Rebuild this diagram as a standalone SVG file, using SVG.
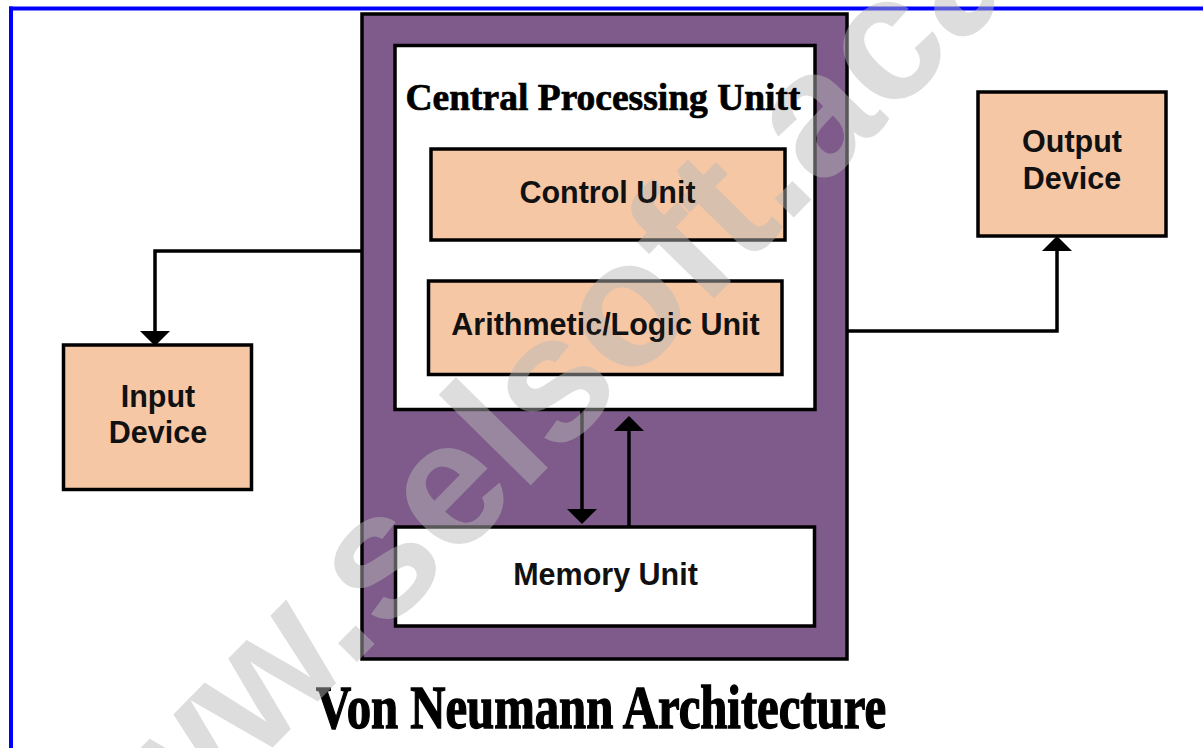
<svg xmlns="http://www.w3.org/2000/svg" width="1203" height="748" viewBox="0 0 1203 748">
  <style>
    .box { stroke: #000; stroke-width: 3.5; }
    .peach { fill: #f6c7a5; }
    .plain { fill: #ffffff; }
    .frame { fill: #7e5b8b; }
    .label { font-family: "Liberation Sans", Arial, sans-serif; font-weight: bold; font-size: 30.5px; fill: #111; text-anchor: middle; }
    .serif { font-family: "Liberation Serif", "Times New Roman", serif; font-weight: bold; fill: #000; stroke: #000; text-anchor: middle; }
    .wire { fill: none; stroke: #000; stroke-width: 3.5; }
    .mark { font-family: "Liberation Sans", Arial, sans-serif; font-weight: bold; font-size: 178px; fill: #b8b8b8; opacity: 0.48; }
  </style>
  <defs>
    <marker id="head" viewBox="0 0 15 30" refX="2" refY="15" markerWidth="15" markerHeight="30" markerUnits="userSpaceOnUse" orient="auto">
      <path d="M0,0 L15,15 L0,30 Z" fill="#000"/>
    </marker>
    <!-- keeps the diagonal mark from greying the labels -->
    <mask id="keep-labels" maskUnits="userSpaceOnUse" x="0" y="0" width="1203" height="748">
      <rect x="0" y="0" width="1203" height="748" fill="#fff"/>
      <use href="#t-cpu"/>
      <use href="#t-control"/>
      <use href="#t-alu"/>
      <use href="#t-memory"/>
      <use href="#t-output"/>
    </mask>
  </defs>

  <rect x="0" y="0" width="1203" height="748" fill="#ffffff"/>

  <!-- page frame: top and left rules -->
  <g id="page-frame" fill="none" stroke="#0000ff" stroke-width="4">
    <line x1="9" y1="8.5" x2="1203" y2="8.5"/>
    <line x1="11" y1="6.5" x2="11" y2="748"/>
  </g>

  <!-- computer enclosure -->
  <g id="computer">
    <rect class="box frame" x="362" y="14" width="485" height="645"/>
  </g>

  <!-- CPU block with its two units -->
  <g id="cpu">
    <rect class="box plain" x="395" y="45.5" width="420" height="364"/>
    <text id="t-cpu" class="serif" x="603" y="110" font-size="37" stroke-width="0.7" textLength="395" lengthAdjust="spacingAndGlyphs">Central Processing Unitt</text>
  </g>
  <g id="control-unit">
    <rect class="box peach" x="431" y="149" width="354" height="91"/>
    <text id="t-control" class="label" x="607.5" y="203">Control Unit</text>
  </g>
  <g id="alu">
    <rect class="box peach" x="428.5" y="281" width="353.5" height="93.5"/>
    <text id="t-alu" class="label" x="605.5" y="335">Arithmetic/Logic Unit</text>
  </g>

  <g id="memory-unit">
    <rect class="box plain" x="395.5" y="527" width="419" height="99"/>
    <text id="t-memory" class="label" x="605.5" y="585">Memory Unit</text>
  </g>

  <g id="input-device">
    <rect class="box peach" x="63.5" y="345" width="188" height="144.5"/>
    <text class="label" x="158" y="407">Input</text>
    <text class="label" x="158" y="443">Device</text>
  </g>

  <g id="output-device">
    <rect class="box peach" x="978" y="92" width="188" height="144"/>
    <g id="t-output">
      <text class="label" x="1072" y="152">Output</text>
      <text class="label" x="1072" y="189">Device</text>
    </g>
  </g>

  <!-- data paths -->
  <g id="connectors">
    <path class="wire" d="M362,251 H155 V333" marker-end="url(#head)"/>
    <path class="wire" d="M847,331 H1057 V249" marker-end="url(#head)"/>
    <path class="wire" d="M582,410 V511" marker-end="url(#head)"/>
    <path class="wire" d="M629,527 V429" marker-end="url(#head)"/>
  </g>

  <!-- caption -->
  <text class="serif" x="601" y="728" font-size="61" stroke-width="1.4" textLength="570" lengthAdjust="spacingAndGlyphs">Von Neumann Architecture</text>

  <!-- diagonal site mark -->
  <g mask="url(#keep-labels)">
    <text class="mark" transform="translate(62,962) rotate(-45.5)">www.selsoft.aca</text>
  </g>
</svg>
